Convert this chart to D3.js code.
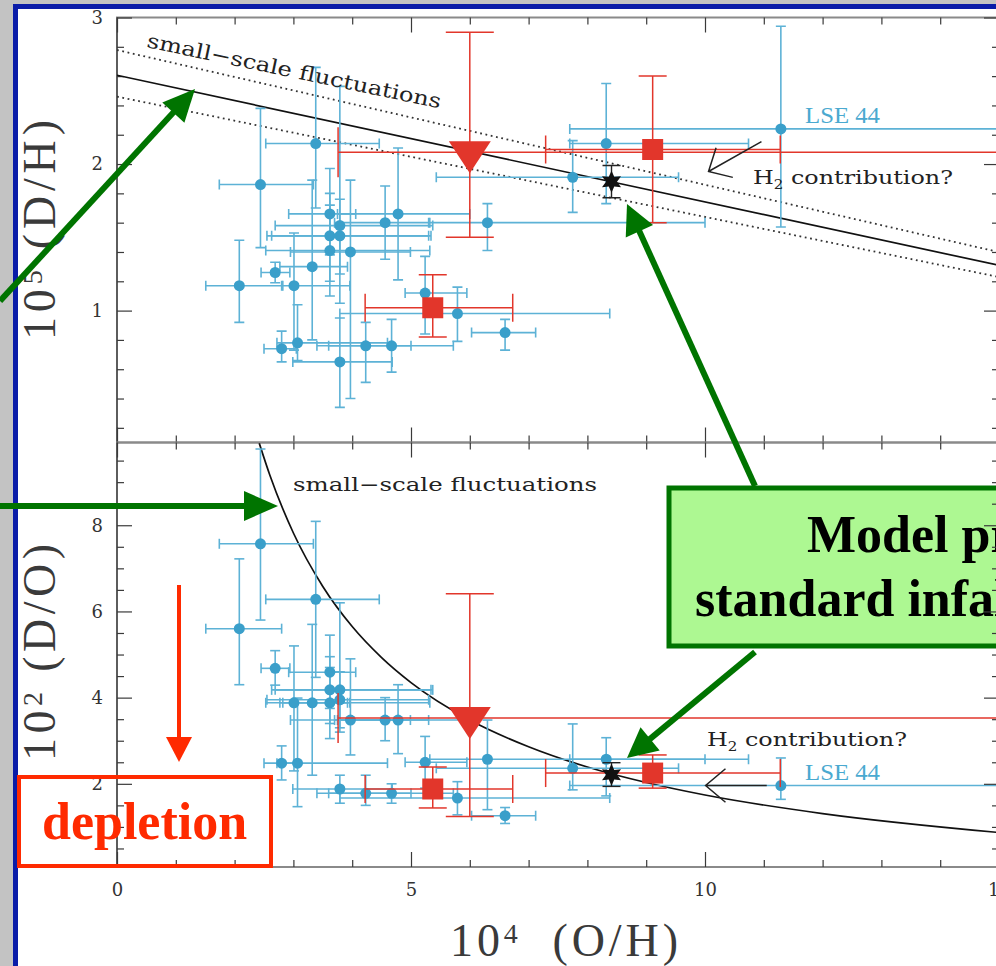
<!DOCTYPE html>
<html>
<head>
<meta charset="utf-8">
<script src="https://cdn.jsdelivr.net/npm/d3@7"></script>
<style>
  body { margin: 0; background: #c3c3c3; }
  svg { display: block; }
</style>
</head>
<body>
<svg id="chart"></svg>
<script>
// ---- values ----
// blue points: 10^4 O/H with its range, 10^5 D/H with range, 10^2 D/O with range
var ohVal = [2.44, 3.38, 2.08, 2.69, 3.62, 3.79, 3.62, 3.79, 3.62, 3.97, 4.56, 4.78, 3.32, 3.01, 2.80, 3.07, 3.79, 4.23, 4.67, 5.24, 5.79, 6.30, 6.60, 7.75, 8.32, 11.29];
var ohLo  = [1.74, 2.53, 1.51, 2.45, 2.92, 2.69, 2.63, 2.55, 2.53, 2.95, 3.70, 3.75, 2.77, 2.82, 2.50, 2.72, 2.99, 3.40, 3.60, 4.90, 3.79, 5.32, 6.03, 5.43, 7.70, 7.70];
var ohHi  = [3.34, 4.46, 2.80, 2.94, 4.06, 5.37, 5.34, 5.30, 5.32, 4.99, 5.30, 6.00, 3.92, 3.96, 3.05, 4.60, 4.68, 5.00, 5.72, 5.95, 8.38, 10.00, 7.12, 9.55, 10.74, 16.0];
var dhVal = [1.86, 2.14, 1.17, 1.26, 1.66, 1.58, 1.51, 1.51, 1.41, 1.40, 1.60, 1.66, 1.30, 1.17, 0.74, 0.78, 0.65, 0.76, 0.76, 1.12, 0.98, 1.60, 0.85, 1.91, 2.14, 2.24];
var dhLo  = [1.43, 1.70, 0.92, 1.19, 1.38, 1.05, 1.20, 1.25, 1.10, 0.40, 1.35, 1.21, 0.80, 0.73, 0.65, 0.66, 0.34, 0.51, 0.58, 0.84, 0.79, 1.41, 0.73, 1.67, 1.73, 1.57];
var dhHi  = [2.38, 2.66, 1.48, 1.33, 1.97, 2.53, 1.80, 1.76, 1.72, 1.89, 1.85, 2.11, 1.89, 1.53, 0.86, 1.04, 0.95, 0.92, 0.94, 1.37, 1.16, 1.73, 0.94, 2.16, 2.55, 2.94];
var doVal = [7.57, 6.28, 5.60, 4.68, 4.59, 4.18, 4.18, 3.95, 3.88, 3.48, 3.48, 3.48, 3.88, 3.88, 2.48, 2.48, 1.88, 1.78, 1.78, 2.50, 1.67, 2.57, 1.26, 2.36, 2.57, 1.96];
var doLo  = [5.80, 4.47, 4.30, 4.29, 3.75, 3.20, 3.40, 3.30, 3.05, 2.67, 3.00, 2.70, 2.20, 2.30, 2.09, 1.47, 1.55, 1.50, 1.55, 1.90, 1.28, 1.40, 1.08, 1.86, 1.72, 1.64];
var doHi  = [9.77, 8.09, 7.22, 5.09, 5.45, 6.20, 4.95, 4.60, 4.70, 4.90, 4.00, 4.30, 5.70, 5.20, 2.88, 3.99, 2.20, 2.20, 2.00, 3.10, 2.05, 3.48, 1.45, 3.39, 3.07, 2.60];

// red markers (triangle, square, square)
var redShape = ["triangle", "square", "square"];
var redOH   = [6.00, 5.37, 9.11];
var redOHLo = [3.76, 4.22, 7.29];
var redOHHi = [16.0, 6.73, 11.28];
var redDH   = [2.08, 1.02, 2.10];
var redDHLo = [1.50, 0.82, 1.60];
var redDHHi = [2.90, 1.245, 2.60];
var redDO   = [3.53, 1.88, 2.25];
var redDOLo = [1.24, 1.44, 1.90];
var redDOHi = [6.41, 2.39, 2.67];

// black star (model point)
var starOH = [8.41];
var starDH = [1.88], starDHLo = [1.77], starDHHi = [1.99];
var starDO = [2.21], starDOLo = [1.94], starDOHi = [2.49];

// model line (upper) and its fluctuation band
var modelOH = [0, 15];
var modelDH = [2.606, 1.309];
var fluctHiDH = [2.778, 1.399];
var fluctLoDH = [2.460, 1.229];
// model curve (lower)
var curveOH = [2.42, 2.6, 3, 3.5, 4, 4.5, 5, 6, 7, 8, 9, 10, 12, 15];
var curveDO = [9.90, 9.16, 7.82, 6.58, 5.65, 4.93, 4.35, 3.48, 2.86, 2.39, 2.03, 1.74, 1.31, 0.87];

// tick labels
var xMajor = [0, 5, 10, 15];
var dhMajor = [1, 2, 3];
var doMajor = [2, 4, 6, 8];

// ---- drawing ----
var W = 996, H = 966;
var svg = d3.select("#chart").attr("width", W).attr("height", H);

// slide background + blue frame
svg.append("rect").attr("width", W).attr("height", H).attr("fill", "#c3c3c3");
svg.append("rect").attr("x", 13).attr("y", 4).attr("width", W).attr("height", H).attr("fill", "#0a1ca8");
svg.append("rect").attr("x", 18).attr("y", 9).attr("width", W).attr("height", H).attr("fill", "#fff");

var x = d3.scaleLinear().domain([0, 15]).range([117, 999]);
var yTop = d3.scaleLinear().domain([0.1, 3]).range([442.5, 17.5]);
var yBot = d3.scaleLinear().domain([0.07, 9.92]).range([867, 442.5]);

var blue = ohVal.map(function(v, i) {
    return {oh: v, lo: ohLo[i], hi: ohHi[i],
        dh: dhVal[i], dhLo: dhLo[i], dhHi: dhHi[i],
        dO: doVal[i], doLo: doLo[i], doHi: doHi[i], capV: 5, capH: 5};
});
var red = redOH.map(function(v, i) {
    var big = redShape[i] === "triangle";
    return {shape: redShape[i], oh: v, lo: redOHLo[i], hi: redOHHi[i],
        dh: redDH[i], dhLo: redDHLo[i], dhHi: redDHHi[i],
        dO: redDO[i], doLo: redDOLo[i], doHi: redDOHi[i],
        capV: big ? 24 : 14, capH: big ? 25 : 14};
});
var star = starOH.map(function(v, i) {
    return {oh: v, lo: v, hi: v, dh: starDH[i], dhLo: starDHLo[i], dhHi: starDHHi[i],
        dO: starDO[i], doLo: starDOLo[i], doHi: starDOHi[i], capV: 9, capH: 0};
});

var panels = [
    {name: "top", y: yTop, top: 17.5, bottom: 442.5, k: "dh", kLo: "dhLo", kHi: "dhHi", majors: dhMajor,
        minor: d3.range(1, 15).map(function(i) { return i * 0.2; }).filter(function(v) { return Math.abs(v - Math.round(v)) > 1e-6; })},
    {name: "bot", y: yBot, top: 442.5, bottom: 867, k: "dO", kLo: "doLo", kHi: "doHi", majors: doMajor,
        minor: d3.range(1, 20).map(function(i) { return i * 0.5; }).filter(function(v) { return v % 2 !== 0; })}
];
var xMinor = d3.range(1, 15).filter(function(v) { return v % 5 !== 0; });

var defs = svg.append("defs");
panels.forEach(function(p) {
    defs.append("clipPath").attr("id", "clip-" + p.name)
        .append("rect").attr("x", 117).attr("y", p.top).attr("width", 882).attr("height", p.bottom - p.top);
});

function styleAxis(g) {
    g.select(".domain").remove();
    g.attr("color", "#3a3a3a");
    g.selectAll("line").attr("stroke-width", 1.2);
    g.selectAll("text").attr("font-family", "DejaVu Serif").attr("font-size", 18).attr("fill", "#333");
}

function drawErrors(g, data, y, k, kLo, kHi, color, sw) {
    var eb = g.append("g").attr("stroke", color).attr("stroke-width", sw).attr("fill", "none");
    var withH = data.filter(function(d) { return d.hi > d.lo; });
    eb.selectAll("line.h").data(withH).enter().append("line").attr("class", "h")
        .attr("x1", function(d) { return x(d.lo); }).attr("x2", function(d) { return x(d.hi); })
        .attr("y1", function(d) { return y(d[k]); }).attr("y2", function(d) { return y(d[k]); });
    var hCaps = [];
    withH.forEach(function(d) { hCaps.push({v: d.lo, y: d[k], c: d.capH}, {v: d.hi, y: d[k], c: d.capH}); });
    eb.selectAll("line.hc").data(hCaps).enter().append("line").attr("class", "hc")
        .attr("x1", function(d) { return x(d.v); }).attr("x2", function(d) { return x(d.v); })
        .attr("y1", function(d) { return y(d.y) - d.c; }).attr("y2", function(d) { return y(d.y) + d.c; });
    eb.selectAll("line.v").data(data).enter().append("line").attr("class", "v")
        .attr("x1", function(d) { return x(d.oh); }).attr("x2", function(d) { return x(d.oh); })
        .attr("y1", function(d) { return y(d[kLo]); }).attr("y2", function(d) { return y(d[kHi]); });
    var vCaps = [];
    data.forEach(function(d) { vCaps.push({x: d.oh, v: d[kLo], c: d.capV}, {x: d.oh, v: d[kHi], c: d.capV}); });
    eb.selectAll("line.vc").data(vCaps).enter().append("line").attr("class", "vc")
        .attr("x1", function(d) { return x(d.x) - d.c; }).attr("x2", function(d) { return x(d.x) + d.c; })
        .attr("y1", function(d) { return y(d.v); }).attr("y2", function(d) { return y(d.v); });
}

function starPath(r1, r2) {
    var pts = d3.range(12).map(function(i) {
        var a = -Math.PI / 2 + i * Math.PI / 6, r = i % 2 ? r2 : r1;
        return [r * Math.cos(a), r * Math.sin(a)];
    });
    return "M" + pts.join("L") + "Z";
}

var blueLine = "#5db2d6", blueDot = "#3a9fca", redCol = "#e2362b";

panels.forEach(function(p) {
    var y = p.y;
    // frame
    svg.append("rect").attr("x", 117).attr("y", p.top).attr("width", 882).attr("height", p.bottom - p.top)
        .attr("fill", "none").attr("stroke", "#8a8a8a").attr("stroke-width", 2);
    svg.append("line").attr("x1", 117).attr("x2", 117).attr("y1", p.top).attr("y2", p.bottom)
        .attr("stroke", "#444").attr("stroke-width", 1.3);

    // axes (ticks inside)
    svg.append("g").attr("transform", "translate(117,0)")
        .call(d3.axisLeft(y).tickValues(p.minor).tickSize(-7).tickFormat("")).call(styleAxis);
    svg.append("g").attr("transform", "translate(117,0)")
        .call(d3.axisLeft(y).tickValues(p.majors).tickSize(-15).tickPadding(14).tickFormat(d3.format("d"))).call(styleAxis);
    svg.append("g").attr("transform", "translate(0," + p.top + ")")
        .call(d3.axisTop(x).tickValues(xMinor).tickSize(-7).tickFormat("")).call(styleAxis);
    svg.append("g").attr("transform", "translate(0," + p.top + ")")
        .call(d3.axisTop(x).tickValues(xMajor).tickSize(-15).tickFormat("")).call(styleAxis);
    svg.append("g").attr("transform", "translate(0," + p.bottom + ")")
        .call(d3.axisBottom(x).tickValues(xMinor).tickSize(-7).tickFormat("")).call(styleAxis);
    svg.append("g").attr("transform", "translate(0," + p.bottom + ")")
        .call(d3.axisBottom(x).tickValues(xMajor).tickSize(-15).tickPadding(16)
            .tickFormat(p.name === "bot" ? d3.format("d") : "")).call(styleAxis);

    var g = svg.append("g").attr("clip-path", "url(#clip-" + p.name + ")");

    // model lines
    if (p.name === "top") {
        var lineFn = function(arr) {
            return d3.line().x(function(d, i) { return x(modelOH[i]); }).y(function(d) { return y(d); })(arr);
        };
        g.append("path").attr("d", lineFn(fluctHiDH)).attr("fill", "none").attr("stroke", "#333")
            .attr("stroke-width", 1.8).attr("stroke-dasharray", "1.8,3.6");
        g.append("path").attr("d", lineFn(fluctLoDH)).attr("fill", "none").attr("stroke", "#333")
            .attr("stroke-width", 1.8).attr("stroke-dasharray", "1.8,3.6");
        g.append("path").attr("d", lineFn(modelDH)).attr("fill", "none").attr("stroke", "#111").attr("stroke-width", 1.7);
    } else {
        var curve = d3.line().curve(d3.curveMonotoneX)
            .x(function(d, i) { return x(curveOH[i]); }).y(function(d) { return y(d); });
        g.append("path").attr("d", curve(curveDO)).attr("fill", "none").attr("stroke", "#111").attr("stroke-width", 1.7);
    }

    // blue data
    drawErrors(g, blue, y, p.k, p.kLo, p.kHi, blueLine, 1.6);
    g.append("g").selectAll("circle").data(blue).enter().append("circle")
        .attr("cx", function(d) { return x(d.oh); }).attr("cy", function(d) { return y(d[p.k]); })
        .attr("r", 5.5).attr("fill", blueDot);

    // red data
    drawErrors(g, red, y, p.k, p.kLo, p.kHi, redCol, 1.5);
    g.append("g").selectAll("path").data(red).enter().append("path")
        .attr("transform", function(d) { return "translate(" + x(d.oh) + "," + y(d[p.k]) + ")"; })
        .attr("d", function(d) {
            return d.shape === "triangle" ? "M-21,-11L21,-11L0,21Z" : "M-10.5,-10.5H10.5V10.5H-10.5Z";
        })
        .attr("fill", redCol);

    // star
    drawErrors(g, star, y, p.k, p.kLo, p.kHi, "#222", 1.4);
    g.append("g").selectAll("path").data(star).enter().append("path")
        .attr("transform", function(d) { return "translate(" + x(d.oh) + "," + y(d[p.k]) + ")"; })
        .attr("d", starPath(11, 5.5)).attr("fill", "#111");
});

// annotations inside the plot
function h2Label(px, py) {
    var t = svg.append("text").attr("x", px).attr("y", py).attr("font-family", "DejaVu Serif")
        .attr("font-size", 19).attr("fill", "#222").attr("textLength", 200).attr("lengthAdjust", "spacingAndGlyphs");
    t.append("tspan").text("H");
    t.append("tspan").attr("font-size", 12).attr("dy", 5).text("2");
    t.append("tspan").attr("dy", -5).text(" contribution?");
}
h2Label(753, 184);
h2Label(707, 746);

svg.append("text").attr("transform", "translate(146,47) rotate(11.8)")
    .attr("font-family", "DejaVu Serif").attr("font-size", 20).attr("fill", "#222")
    .attr("textLength", 300).attr("lengthAdjust", "spacingAndGlyphs").text("small\u2212scale fluctuations");
svg.append("text").attr("x", 293).attr("y", 491)
    .attr("font-family", "DejaVu Serif").attr("font-size", 19).attr("fill", "#222")
    .attr("textLength", 304).attr("lengthAdjust", "spacingAndGlyphs").text("small\u2212scale fluctuations");

[[805, 123], [805, 780]].forEach(function(pos) {
    svg.append("text").attr("x", pos[0]).attr("y", pos[1]).attr("font-family", "Liberation Serif")
        .attr("font-size", 23).attr("fill", "#4aa9d0").attr("textLength", 75).attr("lengthAdjust", "spacingAndGlyphs").text("LSE 44");
});

// thin black "H2" arrows (placed in data coordinates)
function openArrow(x1, y1, x2, y2, spread, len) {
    var a = Math.atan2(y1 - y2, x1 - x2);
    var d = "M" + x1 + "," + y1 + "L" + x2 + "," + y2 +
        "M" + (x2 + len * Math.cos(a - spread)) + "," + (y2 + len * Math.sin(a - spread)) +
        "L" + x2 + "," + y2 +
        "L" + (x2 + len * Math.cos(a + spread)) + "," + (y2 + len * Math.sin(a + spread));
    svg.append("path").attr("d", d).attr("fill", "none").attr("stroke", "#222").attr("stroke-width", 1.5);
}
openArrow(x(10.96), yTop(2.153), x(10.06), yTop(1.949), 0.75, 25);
openArrow(x(11.05), yBot(1.96), x(10.01), yBot(1.96), 0.7, 26);

// axis titles
function axisTitle(transform, sup, rest, len, gap) {
    var t = svg.append("text").attr("transform", transform).attr("font-family", "Liberation Serif")
        .attr("font-size", 46).attr("fill", "#3a3a3a").attr("textLength", len).attr("lengthAdjust", "spacing");
    t.append("tspan").text("10");
    t.append("tspan").attr("font-size", 28).attr("dy", -13).text(sup);
    t.append("tspan").attr("dy", 13).text(gap + rest);
}
axisTitle("translate(55,340) rotate(-90)", "5", "(D/H)", 220, " ");
axisTitle("translate(55,761) rotate(-90)", "2", "(D/O)", 217, " ");
axisTitle("translate(450,956)", "4", "(O/H)", 228, "\u00a0\u00a0");

// ---- slide overlays ----
function fatArrow(x1, y1, x2, y2, color, sw, hl, hw) {
    var dx = x2 - x1, dy = y2 - y1, L = Math.sqrt(dx * dx + dy * dy), ux = dx / L, uy = dy / L;
    var bx = x2 - ux * hl, by = y2 - uy * hl;
    svg.append("line").attr("x1", x1).attr("y1", y1).attr("x2", bx + ux * 2).attr("y2", by + uy * 2)
        .attr("stroke", color).attr("stroke-width", sw);
    svg.append("path").attr("d", "M" + x2 + "," + y2 + "L" + (bx - uy * hw) + "," + (by + ux * hw) +
        "L" + (bx + uy * hw) + "," + (by - ux * hw) + "Z").attr("fill", color);
}

// depletion box + red arrow
svg.append("rect").attr("x", 19).attr("y", 777).attr("width", 252).attr("height", 89)
    .attr("fill", "none").attr("stroke", "#ff2a00").attr("stroke-width", 4);
svg.append("text").attr("x", 42).attr("y", 839).attr("font-family", "Liberation Serif").attr("font-weight", "bold")
    .attr("font-size", 52).attr("fill", "#ff2a00").text("depletion");
fatArrow(179, 585, 179, 762, "#ff2a00", 4, 25, 13);

// green callout box
svg.append("rect").attr("x", 669).attr("y", 488).attr("width", 400).attr("height", 158)
    .attr("fill", "#adf892").attr("stroke", "#007400").attr("stroke-width", 5);
svg.append("text").attr("x", 807).attr("y", 552).attr("font-family", "Liberation Serif").attr("font-weight", "bold")
    .attr("font-size", 52).attr("fill", "#000").text("Model predictions");
svg.append("text").attr("x", 695).attr("y", 616).attr("font-family", "Liberation Serif").attr("font-weight", "bold")
    .attr("font-size", 52).attr("fill", "#000").text("standard infall model");

// right axis ticks show over the box
panels.forEach(function(p) {
    svg.append("g").attr("transform", "translate(999,0)")
        .call(d3.axisRight(p.y).tickValues(p.minor).tickSize(-7).tickFormat("")).call(styleAxis);
    svg.append("g").attr("transform", "translate(999,0)")
        .call(d3.axisRight(p.y).tickValues(p.majors).tickSize(-15).tickFormat("")).call(styleAxis);
});

// green arrows
var green = "#007400";
fatArrow(0, 301, 195, 89, green, 6, 32, 15);
fatArrow(0, 506, 278, 506, green, 6, 34, 15);
fatArrow(755, 486, 627, 204, green, 6, 30, 15);
fatArrow(755, 652, 627, 758, green, 6, 30, 15);
</script>
</body>
</html>
